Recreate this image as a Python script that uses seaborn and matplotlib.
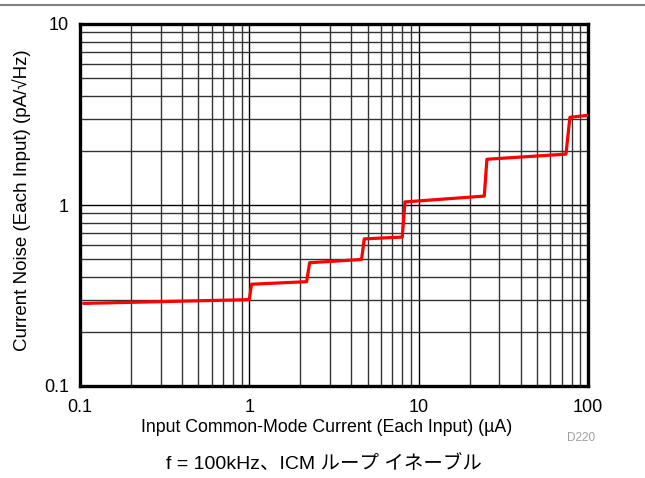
import matplotlib
matplotlib.use("Agg")
import matplotlib.pyplot as plt
import seaborn as sns
import pandas as pd
from matplotlib.lines import Line2D
from matplotlib.ticker import LogLocator, NullFormatter, FixedLocator, FixedFormatter

sns.set_theme(style="white")
plt.rcParams['font.family'] = ['Liberation Sans', 'Noto Sans CJK JP', 'DejaVu Sans']

# Data (current in uA, noise in pA/sqrt(Hz))
current_ua = [0.105, 1.0, 1.03, 2.18, 2.27, 4.6, 4.77, 8.0, 8.3, 24.4, 25.3, 74.1, 78.2, 100]
noise_pa = [0.286, 0.30, 0.365, 0.377, 0.48, 0.50, 0.65, 0.665, 1.04, 1.12, 1.79, 1.91, 3.05, 3.13]

x_ticks = [0.1, 1, 10, 100]
x_tick_labels = ["0.1", "1", "10", "100"]
y_ticks = [0.1, 1, 10]
y_tick_labels = ["0.1", "1", "10"]

df = pd.DataFrame({"current": current_ua, "noise": noise_pa})

fig = plt.figure(figsize=(6.45, 4.78), dpi=100)
ax = fig.add_axes([80/645, 1-386/478, (588-80)/645, (386-24)/478])

ax.set_xscale("log")
ax.set_yscale("log")
ax.set_xlim(0.1, 100)
ax.set_ylim(0.1, 10)

sns.lineplot(data=df, x="current", y="noise", ax=ax, color="#ff0000", linewidth=2.3,
             sort=False, estimator=None, zorder=5)

ax.xaxis.set_major_locator(FixedLocator(x_ticks))
ax.xaxis.set_major_formatter(FixedFormatter(x_tick_labels))
ax.yaxis.set_major_locator(FixedLocator(y_ticks))
ax.yaxis.set_major_formatter(FixedFormatter(y_tick_labels))
ax.xaxis.set_minor_locator(LogLocator(base=10, subs=range(2, 10)))
ax.yaxis.set_minor_locator(LogLocator(base=10, subs=range(2, 10)))
ax.xaxis.set_minor_formatter(NullFormatter())
ax.yaxis.set_minor_formatter(NullFormatter())

ax.grid(True, which="major", color="#000000", linewidth=1.0)
ax.grid(True, which="minor", color="#333333", linewidth=1.0)
ax.tick_params(axis="both", which="both", length=0, labelsize=13, colors="#000000")
ax.tick_params(axis="x", pad=9)
ax.tick_params(axis="y", pad=8)

for s in ax.spines.values():
    s.set_visible(True)
    s.set_color("#000000")
    s.set_linewidth(2.4)

ax.set_xlabel("Input Common-Mode Current (Each Input) (µA)", fontsize=12.8, color="#000000")
ax.set_ylabel("Current Noise (Each Input) (pA/√Hz)", fontsize=13.5, color="#000000")
ax.xaxis.set_label_coords((327-80)/508, -(428-386)/362)
ax.yaxis.set_label_coords(-(80-22)/508, (386-200)/362)
ax.xaxis.label.set_va("center")
ax.yaxis.label.set_va("center")

fig.text(581/645, 1-438/478, "D220", fontsize=8.5, color="#a0a0a0", ha="center", va="center")
fig.text(324/645, 1-465/478, "f = 100kHz、ICM ループ イネーブル", fontsize=14, ha="center", va="center",
         color="#000000", family=['Liberation Sans', 'Noto Sans CJK JP', 'DejaVu Sans'])

fig.add_artist(Line2D([0, 1], [1-5/478, 1-5/478], transform=fig.transFigure, color="#808080", linewidth=1.5))

fig.savefig("out.png", dpi=100)
